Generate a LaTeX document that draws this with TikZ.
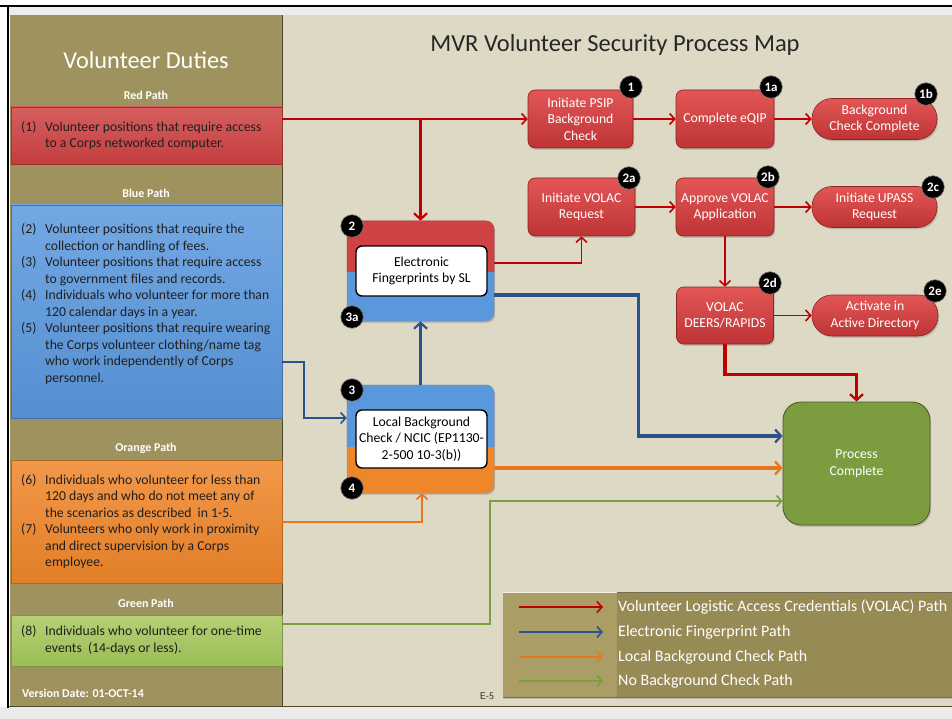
\documentclass[tikz,border=0pt]{standalone}
\usepackage{fontspec}
\setmainfont{Carlito}
\usetikzlibrary{arrows.meta,shadows}
\definecolor{panelolive}{RGB}{158,146,94}
\definecolor{panelbeige}{RGB}{222,217,196}
\definecolor{edgedark}{RGB}{80,72,45}
\definecolor{boxred}{RGB}{208,66,66}
\definecolor{boxredtop}{RGB}{226,86,86}
\definecolor{boxredbot}{RGB}{190,52,52}
\definecolor{boxredline}{RGB}{140,35,35}
\definecolor{boxblue}{RGB}{90,152,222}
\definecolor{boxorange}{RGB}{240,134,42}
\definecolor{boxgreen}{RGB}{166,201,92}
\definecolor{procgreen}{RGB}{123,157,63}
\definecolor{arrred}{RGB}{192,0,0}
\definecolor{arrblue}{RGB}{44,82,140}
\definecolor{arrorange}{RGB}{232,118,30}
\definecolor{arrgreen}{RGB}{120,160,60}
\definecolor{legleft}{RGB}{170,158,102}
\definecolor{legright}{RGB}{150,138,85}
\newcommand{\vitem}[1]{\makebox[24pt][l]{#1}}
\newcommand{\vind}{\hspace*{24pt}}
\begin{document}
\begin{tikzpicture}[x=1pt,y=-1pt,
  bodyfont/.style={font=\fontsize{13.7}{16.5}\selectfont},
  lbox/.style={rectangle, minimum width=271, inner sep=0, draw=#1!75!black, line width=0.5,
     top color=#1!85!white, bottom color=#1!94!black},
  ltext/.style={bodyfont, text=black!88, align=left, inner sep=0, anchor=west},
  plabel/.style={font=\fontsize{12}{14}\selectfont\bfseries, text=white},
  shadowed/.style={drop shadow={opacity=0.35, shadow xshift=1.2pt, shadow yshift=-1.8pt}},
  redn/.style={rectangle, rounded corners=7, draw=boxredline, line width=0.6, top color=boxredtop, bottom color=boxredbot, text=white, align=center, inner sep=1, bodyfont, shadowed},
  pill/.style={redn, rounded corners=20, minimum width=125, minimum height=41},
  badge/.style={circle, fill=black, draw=black!55, line width=0.6, minimum size=22.5, inner sep=0, text=white, font=\fontsize{13}{13}\selectfont\bfseries},
  outerbox/.style={rectangle, rounded corners=8, minimum width=147, inner sep=0, draw=black!45, line width=0.5, shadowed},
  innerbox/.style={rectangle, rounded corners=6, fill=white, draw=black, line width=1.4, minimum width=131, align=center, bodyfont, text=black, inner sep=1},
  procbox/.style={rectangle, rounded corners=18, minimum width=147, minimum height=123, fill=procgreen, draw=procgreen!55!black, line width=0.8, text=white, align=center, bodyfont, shadowed},
  thinarr/.style={line width=1.6, -{Straight Barb[length=5pt,width=11pt]}},
  thickarr/.style={line width=3.2, -{Straight Barb[length=6pt,width=13pt,line width=2.2pt]}},
  legtext/.style={anchor=west, text=white, inner sep=0, font=\fontsize{16}{18}\selectfont},
]
\useasboundingbox (0,0) rectangle (952,719);
% ---------- background and frame
\fill[white] (0,0) rectangle (952,719);
\fill[black!8] (0,707) rectangle (952,719);
\fill[black!7] (9,7) rectangle (952,15);
\fill[panelolive] (10,15) rectangle (282,706);
\fill[panelbeige] (283,15) rectangle (952,706);
\draw[edgedark, line width=1.2] (282.5,15) -- (282.5,706);
\draw[edgedark, line width=1.6] (9,706.5) -- (952,706.5);
\draw[black, line width=2.2] (0,6) -- (952,6);
\draw[black, line width=2.2] (8,5) -- (8,708);
% ---------- left panel
\node[font=\fontsize{24.3}{28}\selectfont, text=white] (ltitle) at (146,60) {Volunteer Duties};
\node[plabel] (lred) at (146,95) {Red Path};
\node[plabel] (lblue) at (146,193) {Blue Path};
\node[plabel] (lorange) at (146,448) {Orange Path};
\node[plabel] (lgreen) at (146,603) {Green Path};
\node[lbox=boxred, minimum height=57] (redbox) at (146.5,135.5) {};
\node[lbox=boxblue, minimum height=213] (bluebox) at (146.5,311.5) {};
\node[lbox=boxorange, minimum height=123] (orangebox) at (146.5,521.5) {};
\node[lbox=boxgreen, minimum height=51] (greenbox) at (146.5,640.5) {};
\node[ltext] (t1) at (21,135.5) {\vitem{(1)}Volunteer positions that require access\\\vind to a Corps networked computer.};
\node[ltext] (t2) at (21,304) {\vitem{(2)}Volunteer positions that require the\\\vind collection or handling of fees.\\
\vitem{(3)}Volunteer positions that require access\\\vind to government files and records.\\
\vitem{(4)}Individuals who volunteer for more than\\\vind 120 calendar days in a year.\\
\vitem{(5)}Volunteer positions that require wearing\\\vind the Corps volunteer clothing/name tag\\\vind who work independently of Corps\\\vind personnel.};
\node[ltext] (t3) at (21,521.5) {\vitem{(6)}Individuals who volunteer for less than\\\vind 120 days and who do not meet any of\\\vind the scenarios as described\ \ in 1-5.\\
\vitem{(7)}Volunteers who only work in proximity\\\vind and direct supervision by a Corps\\\vind employee.};
\node[ltext] (t4) at (21,640) {\vitem{(8)}Individuals who volunteer for one-time\\\vind events\ \ (14-days or less).};
\node[plabel, anchor=west, inner sep=0] (version) at (22,693) {Version Date: 01-OCT-14};
% ---------- title
\node[font=\fontsize{24.5}{28}\selectfont, text=black!85] (title) at (615,45) {MVR Volunteer Security Process Map};
% ---------- red process nodes
\node[redn, minimum width=105, minimum height=58] (n1) at (580.5,119) {Initiate PSIP\\Background\\Check};
\node[redn, minimum width=98, minimum height=58] (n1a) at (725,119) {Complete eQIP};
\node[pill] (n1b) at (874.5,119) {Background\\Check Complete};
\node[redn, minimum width=107, minimum height=58] (n2a) at (581.5,207) {Initiate VOLAC\\Request};
\node[redn, minimum width=98, minimum height=58] (n2b) at (725,207) {Approve VOLAC\\Application};
\node[pill] (n2c) at (874.5,207) {Initiate UPASS\\Request};
\node[redn, minimum width=97, minimum height=57] (n2d) at (725,315.5) {VOLAC\\DEERS/RAPIDS};
\node[pill, minimum width=126] (n2e) at (875,315.5) {Activate in\\Active Directory};
\node[procbox] (proc) at (856.5,463.5) {Process\\Complete};
% ---------- composite nodes 2/3a and 3/4
\node[outerbox, minimum height=100, fill=boxblue] (n2) at (420.5,271) {};
\begin{scope}
  \clip (n2.north west) rectangle ([yshift=-51pt]n2.north east);
  \fill[boxred, rounded corners=8] (n2.north west) rectangle (n2.south east);
\end{scope}
\node[innerbox, minimum height=50] (n2t) at (421.5,271) {Electronic\\Fingerprints by SL};
\node[outerbox, minimum height=108, fill=boxorange] (n3) at (420.5,439) {};
\begin{scope}
  \clip (n3.north west) rectangle ([yshift=-62pt]n3.north east);
  \fill[boxblue, rounded corners=8] (n3.north west) rectangle (n3.south east);
\end{scope}
\node[innerbox, minimum height=58] (n3t) at (421.5,439) {Local Background\\Check / NCIC (EP1130-\\2-500 10-3(b))};
% ---------- connectors
\draw[thinarr, arrred] (redbox.east |- n1.west) -- (n1.west);
\draw[thickarr, arrred] (n2.north |- n1.west) -- (n2.north);
\draw[thinarr, arrred] (n1) -- (n1a);
\draw[thinarr, arrred] (n1a) -- (n1b);
\draw[thinarr, arrred] ([yshift=8pt]n2.east) -| (n2a.south);
\draw[thinarr, arrred] (n2a) -- (n2b);
\draw[thinarr, arrred] (n2b) -- (n2c);
\draw[thinarr, arrred] (n2b.south) -- (n2b.south |- n2d.north);
\draw[thinarr, arrred] (n2d) -- (n2e);
\draw[thickarr, arrred] (n2d.south) -- ++(0,30) -| (proc.north);
\draw[thinarr, arrblue] ([yshift=-50.5pt]bluebox.east) -- ++(22,0) |- ([yshift=21pt]n3.west);
\draw[thickarr, arrblue] (n3.north) -- (n2.south);
\draw[thickarr, arrblue] ([yshift=-24pt]n2.east) -- ++(144,0) |- ([yshift=27.5pt]proc.west);
\draw[thickarr, arrorange] ([yshift=-29pt]n3.east) -- ([yshift=-4.5pt]proc.west);
\draw[thinarr, arrorange] ([yshift=-0.5pt]orangebox.east) -| ([xshift=1.5pt]n3.south);
\draw[thinarr, arrgreen] ([yshift=16.5pt]greenbox.east) -- ++(208,0) |- ([yshift=-37.5pt]proc.west);
% ---------- badges
\node[badge] (b1) at (631,87) {1};
\node[badge] (b1a) at (771,87) {1a};
\node[badge] (b1b) at (926,94) {1b};
\node[badge] (b2a) at (629,178) {2a};
\node[badge] (b2b) at (768,177) {2b};
\node[badge] (b2c) at (933,187) {2c};
\node[badge] (b2d) at (770,283) {2d};
\node[badge] (b2e) at (935,291) {2e};
\node[badge] (b2) at (352,226) {2};
\node[badge] (b3a) at (352,317) {3a};
\node[badge] (b3) at (352,390) {3};
\node[badge] (b4) at (352,488) {4};
% ---------- legend
\node[rectangle, minimum width=460, minimum height=105, fill=legright, draw=edgedark!80, line width=0.6, inner sep=0, shadowed] (leg) at (733,644.5) {};
\fill[legleft] (leg.north west) rectangle ([xshift=114pt]leg.south west);
\draw[white!85!legleft, line width=1] ([yshift=-0.8pt]leg.north west) -- ([xshift=114pt,yshift=-0.8pt]leg.north west);
\coordinate (l1a) at (519,607); \coordinate (l1b) at (603,607);
\coordinate (l2a) at (519,632); \coordinate (l2b) at (603,632);
\coordinate (l3a) at (519,657); \coordinate (l3b) at (603,657);
\coordinate (l4a) at (519,681); \coordinate (l4b) at (603,681);
\draw[thinarr, arrred] (l1a) -- (l1b);
\draw[thinarr, arrblue] (l2a) -- (l2b);
\draw[thinarr, arrorange] (l3a) -- (l3b);
\draw[thinarr, arrgreen] (l4a) -- (l4b);
\node[legtext] (lt1) at (618,607) {Volunteer Logistic Access Credentials (VOLAC) Path};
\node[legtext] (lt2) at (618,632) {Electronic Fingerprint Path};
\node[legtext] (lt3) at (618,657) {Local Background Check Path};
\node[legtext] (lt4) at (618,681) {No Background Check Path};
\node[font=\fontsize{10}{12}\selectfont\sffamily, text=black!85, inner sep=0] (e5) at (487,696) {E-5};
\end{tikzpicture}
\end{document}
